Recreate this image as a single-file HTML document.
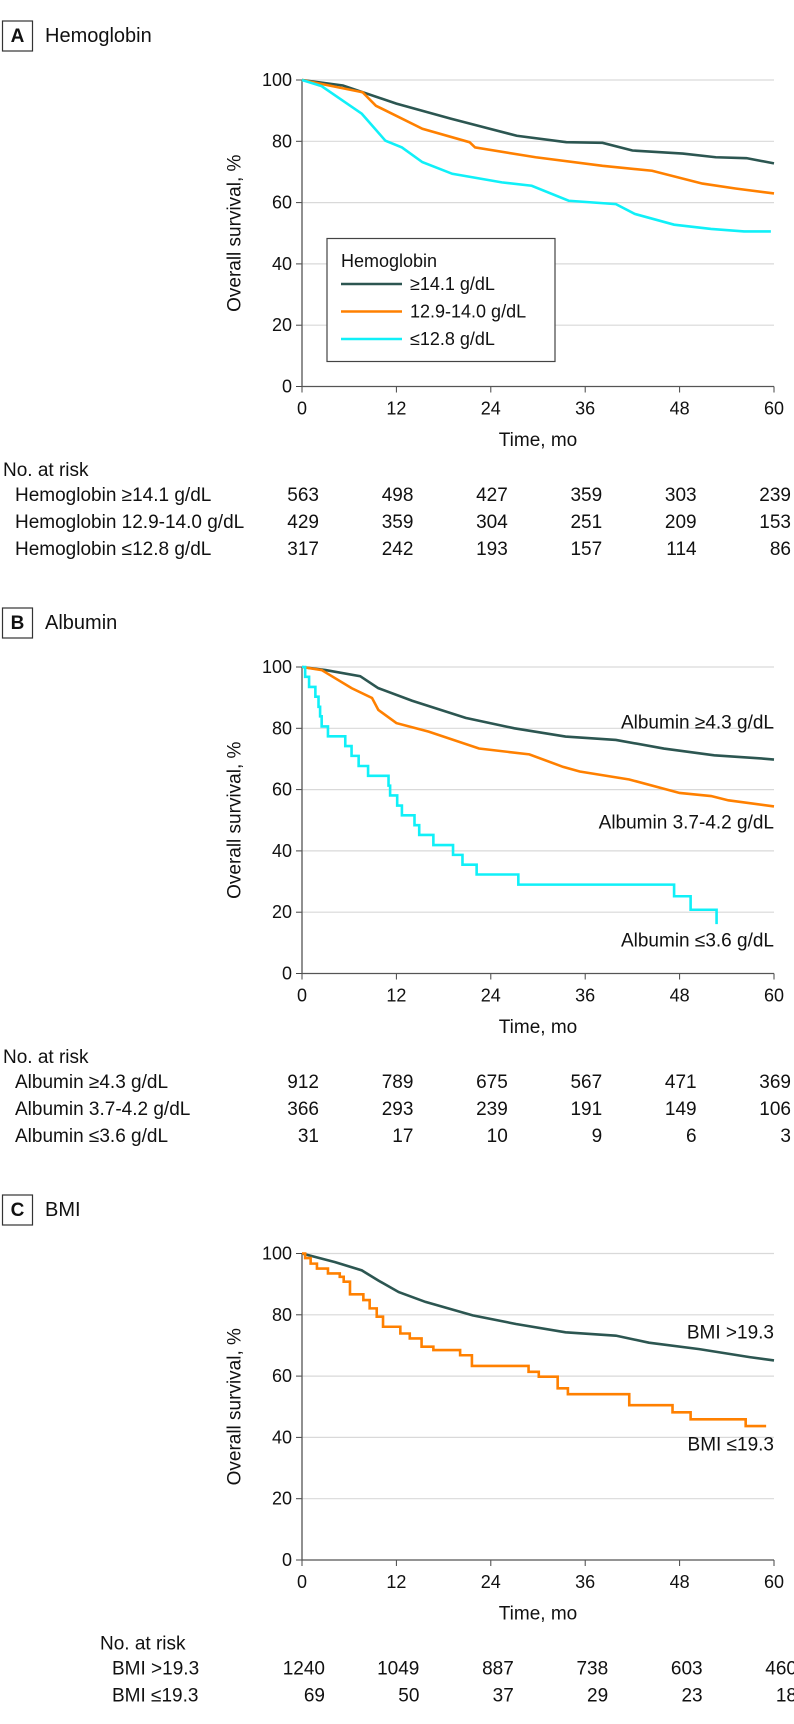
<!DOCTYPE html>
<html><head><meta charset="utf-8"><style>
html,body{margin:0;padding:0;background:#fff;}
svg{display:block;font-family:"Liberation Sans",sans-serif;}
</style></head><body>
<svg id="fig" xmlns="http://www.w3.org/2000/svg" width="794" height="1724" viewBox="0 0 794 1724"></svg>
<script>
const months = [0, 12, 24, 36, 48, 60];
const yTicks = [0, 20, 40, 60, 80, 100];
// Panel A: Hemoglobin
const hbHighT = [0,5.2,12,18.9,27.3,33.6,38.2,42,48.4,52.6,56.5,60];
const hbHighS = [100,98.2,92.3,87.4,81.8,79.7,79.5,77,76,74.8,74.5,72.8];
const hbMidT = [0,7.7,9.4,15.3,21.3,22,29.7,38.2,44.5,50.9,55.1,60];
const hbMidS = [100,96,91.6,84.1,79.7,78,74.8,72,70.4,66.2,64.6,63];
const hbLowT = [0,2.5,7.6,10.6,12.7,15.3,19.1,25.4,29.2,33.9,39.9,42.3,47.3,52,56.2,59.6];
const hbLowS = [100,98,89,80.2,78,73.2,69.4,66.6,65.5,60.6,59.5,56.3,52.8,51.4,50.6,50.6];
const hbRisk = [[563,498,427,359,303,239],[429,359,304,251,209,153],[317,242,193,157,114,86]];
// Panel B: Albumin
const alHighT = [0,3,7.4,9.7,14,20.8,27,33.5,39.9,46,52.4,58.7,60];
const alHighS = [100,99,97,93.1,89,83.4,80,77.3,76.2,73.4,71.2,70.1,69.8];
const alMidT = [0,2.5,6.3,8.9,9.7,12,16.1,22.5,28.9,33.2,35.3,41.6,48,52,54.2,60];
const alMidS = [100,99,93.1,89.9,86,81.7,78.9,73.4,71.5,67.4,65.9,63.3,58.9,57.9,56.5,54.5];
const alLowT = [0,0.4,0.9,1.7,2.1,2.3,2.5,3.3,5.5,6.3,7.2,8.4,11,11.2,12.1,12.7,14.3,14.9,16.7,19.2,20.4,22.2,27.5,47.3,49.4,52.7];
const alLowS = [100,96.8,93.5,90.3,87,83.9,80.6,77.4,74.2,71,67.7,64.5,61.3,58.1,54.8,51.6,48.4,45.2,41.9,38.7,35.5,32.3,29,25.2,20.8,16.1];
const alRisk = [[912,789,675,567,471,369],[366,293,239,191,149,106],[31,17,10,9,6,3]];
// Panel C: BMI
const bmiHighT = [0,4.2,7.6,9.7,12.3,15.7,21.7,27.2,33.5,39.9,44.1,50.5,56.9,60];
const bmiHighS = [100,97.2,94.5,91.2,87.4,84.2,79.8,77,74.3,73.2,70.9,68.8,66.2,65.1];
const bmiLowT = [0,0.4,1.1,1.9,3.3,4.8,5.3,6.1,7.8,8.6,9.5,10.3,12.5,13.7,15.2,16.7,20.1,21.6,28.8,30.1,32.5,33.8,41.6,47.1,49.4,56.4,59];
const bmiLowS = [100,98.5,96.7,95.1,93.5,92.4,90.8,86.7,84.8,82.1,79.4,76.1,73.9,72.3,69.6,68.5,66.8,63.3,61.4,59.8,56,54.1,50.5,48.2,45.9,43.7,43.7];
const bmiRisk = [[1240,1049,887,738,603,460],[69,50,37,29,23,18]];

const NS = "http://www.w3.org/2000/svg";
const svg = document.getElementById('fig');
const C_DARK = "#2c5651", C_OR = "#ff8000", C_CY = "#10f0f8";
const X0 = 302, X1 = 774;
function mk(tag, attrs, parent) {
  const e = document.createElementNS(NS, tag);
  for (const k in attrs) e.setAttribute(k, attrs[k]);
  (parent || svg).appendChild(e);
  return e;
}
function txt(s, x, y, size, anchor, parent, weight) {
  const t = mk('text', {x: x, y: y, 'font-size': size, 'text-anchor': anchor || 'start', 'dominant-baseline': 'central', fill: '#111'}, parent);
  if (weight) t.setAttribute('font-weight', weight);
  t.textContent = s;
  return t;
}
function panel(letter, title, topY, y0, series, labels, riskLabels, riskData, riskLabelX, riskAnchorOff, noRiskX) {
  const g = mk('g', {});
  
  
  const y100 = y0 - 306.5;
  const xs = m => X0 + (m / 60) * (X1 - X0);
  const ys = s => y0 - (s / 100) * (y0 - y100);
  // title
  const box = mk('rect', {x: 2.5, y: topY, width: 30, height: 30, fill: 'none', stroke: '#333', 'stroke-width': 1.2}, g);
  
  
  const lt = txt(letter, 17.5, topY + 15.5, 19, 'middle', g, 'bold');
  
  
  const tt = txt(title, 45, topY + 15, 20, 'start', g);
  
  
  // grid + y ticks
  yTicks.forEach(v => {
    if (v > 0) {
      const gl = mk('line', {x1: X0, x2: X1, y1: ys(v), y2: ys(v), stroke: '#d9d9d9', 'stroke-width': 1.2}, g);
      
      
    }
    mk('line', {x1: X0 - 6, x2: X0, y1: ys(v), y2: ys(v), stroke: '#444', 'stroke-width': 1}, g);
    const tl = txt(String(v), X0 - 10, ys(v), 18, 'end', g);
    
    
  });
  months.forEach(m => {
    mk('line', {x1: xs(m), x2: xs(m), y1: y0, y2: y0 + 6, stroke: '#444', 'stroke-width': 1}, g);
    const tl = txt(String(m), xs(m), y0 + 22, 18, 'middle', g);
    
    
  });
  const ax = mk('path', {d: `M${X0},${y100} V${y0} H${X1}`, fill: 'none', stroke: '#555', 'stroke-width': 1.3}, g);
  
  
  const yl = txt('Overall survival, %', 0, 0, 19, 'middle', g);
  yl.setAttribute('transform', `translate(235,${(y0 + y100) / 2}) rotate(-90)`);
  
  
  const xl = txt('Time, mo', (X0 + X1) / 2, y0 + 54, 19, 'middle', g);
  
  
  // curves
  series.forEach(s => {
    let d = `M${xs(s.t[0])},${ys(s.s[0])}`;
    for (let i = 1; i < s.t.length; i++) {
      d += ` H${xs(s.t[i])}`;
      if (!s.step || i < s.t.length) d += ` V${ys(s.s[i])}`;
    }
    if (!s.step) {
      d = `M${xs(s.t[0])},${ys(s.s[0])}`;
      for (let i = 1; i < s.t.length; i++) d += ` L${xs(s.t[i])},${ys(s.s[i])}`;
    }
    const p = mk('path', {d: d, fill: 'none', stroke: s.c, 'stroke-width': 2.6, 'stroke-linejoin': 'miter'}, g);
    
    
  });
  labels.forEach(l => {
    const t = txt(l.s, X1, l.y, 19, 'end', g);
    
    
  });
  // risk table
  const nr = txt('No. at risk', noRiskX, y0 + 84, 19, 'start', g);
  
  
  riskLabels.forEach((lab, r) => {
    const ry = y0 + 109 + r * 27;
    const rl = txt(lab, riskLabelX, ry, 19, 'start', g);
    
    
    riskData[r].forEach((n, i) => {
      const rt = txt(String(n), xs(months[i]) + riskAnchorOff, ry, 19, 'end', g);
      
      
    });
  });
  return {g, xs, ys};
}

const A = panel('A', 'Hemoglobin', 21, 386.5, [
  {t: hbHighT, s: hbHighS, c: C_DARK, name: 'curve-hb-high'},
  {t: hbMidT, s: hbMidS, c: C_OR, name: 'curve-hb-mid'},
  {t: hbLowT, s: hbLowS, c: C_CY, name: 'curve-hb-low'}
], [], ['Hemoglobin ≥14.1 g/dL', 'Hemoglobin 12.9-14.0 g/dL', 'Hemoglobin ≤12.8 g/dL'], hbRisk, 15, 17, 3);
// legend
const lg = mk('g', {}, A.g);


mk('rect', {x: 327, y: 238.5, width: 228, height: 123, fill: '#fff', stroke: '#444', 'stroke-width': 1.2}, lg);
const lgt = txt('Hemoglobin', 341, 261, 18, 'start', lg);


[[C_DARK, '≥14.1 g/dL', 284], [C_OR, '12.9-14.0 g/dL', 311.5], [C_CY, '≤12.8 g/dL', 339]].forEach(e => {
  mk('line', {x1: 341, x2: 402, y1: e[2], y2: e[2], stroke: e[0], 'stroke-width': 2.6}, lg);
  const t = txt(e[1], 410, e[2], 18, 'start', lg);
  
  
});

panel('B', 'Albumin', 608, 973.5, [
  {t: alHighT, s: alHighS, c: C_DARK, name: 'curve-albumin-high'},
  {t: alMidT, s: alMidS, c: C_OR, name: 'curve-albumin-mid'},
  {t: alLowT, s: alLowS, c: C_CY, name: 'curve-albumin-low', step: true}
], [
  {s: 'Albumin ≥4.3 g/dL', y: 723, name: 'label-albumin-high'},
  {s: 'Albumin 3.7-4.2 g/dL', y: 823, name: 'label-albumin-mid'},
  {s: 'Albumin ≤3.6 g/dL', y: 941, name: 'label-albumin-low'}
], ['Albumin ≥4.3 g/dL', 'Albumin 3.7-4.2 g/dL', 'Albumin ≤3.6 g/dL'], alRisk, 15, 17, 3);

panel('C', 'BMI', 1195, 1560, [
  {t: bmiHighT, s: bmiHighS, c: C_DARK, name: 'curve-bmi-high'},
  {t: bmiLowT, s: bmiLowS, c: C_OR, name: 'curve-bmi-low', step: true}
], [
  {s: 'BMI >19.3', y: 1333, name: 'label-bmi-high'},
  {s: 'BMI ≤19.3', y: 1445, name: 'label-bmi-low'}
], ['BMI >19.3', 'BMI ≤19.3'], bmiRisk, 112, 23, 100);
</script>
</body></html>
